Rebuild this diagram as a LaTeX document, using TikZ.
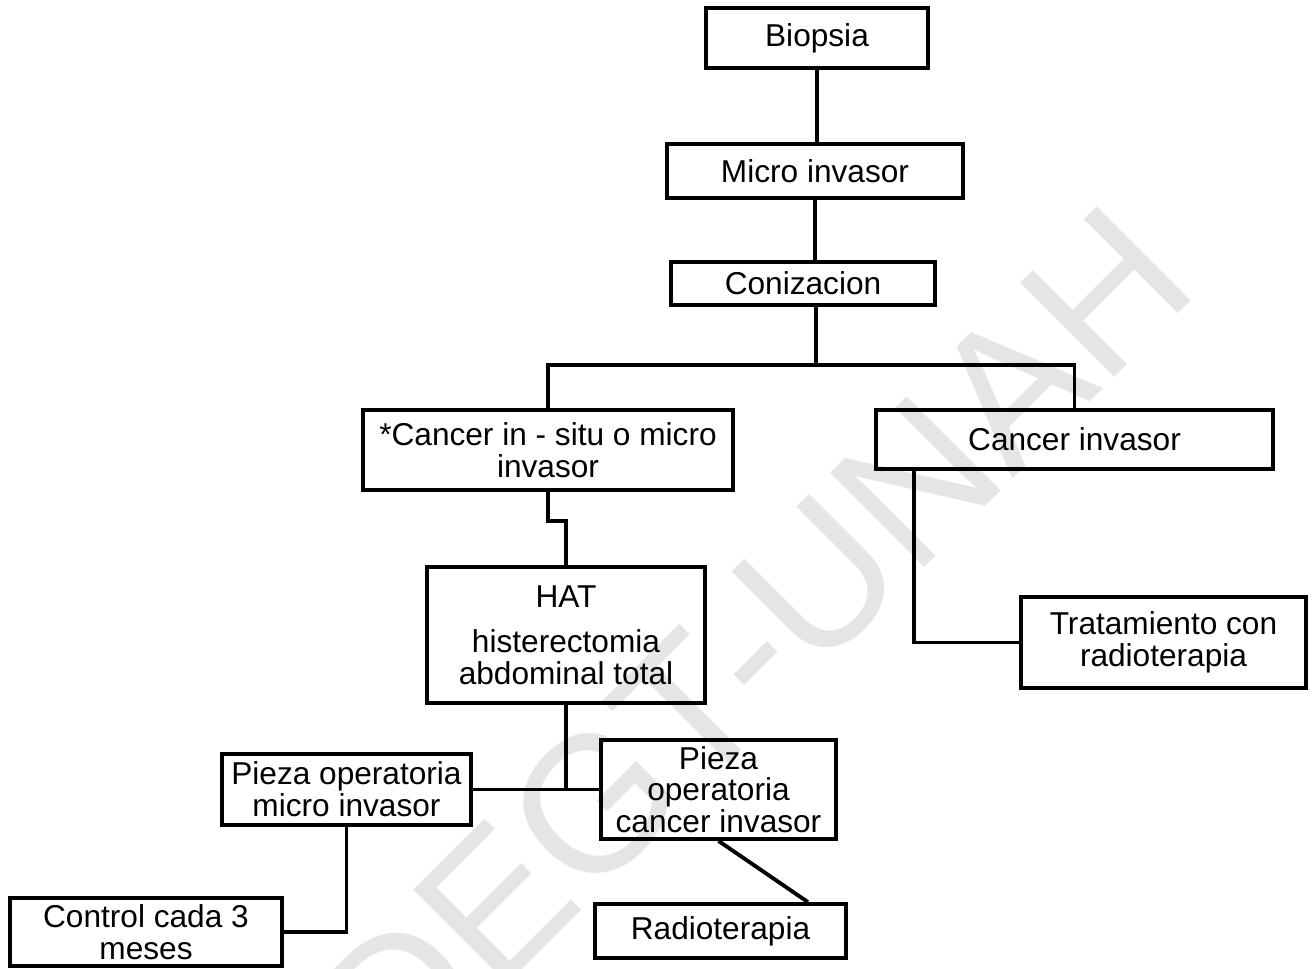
\documentclass[tikz,border=0pt]{standalone}
\usepackage{fontspec}
\setmainfont{Liberation Sans}
\usetikzlibrary{positioning}

\begin{document}
\begin{tikzpicture}[x=0.02cm, y=-0.02cm,
  box/.style={draw, line width=2.2pt, align=center, inner sep=0pt,
    font=\fontsize{18}{18}\selectfont},
  link/.style={line width=2.2pt},
  wmark/.style={text=black!10, inner sep=0pt,
    font=\fontsize{110}{110}\selectfont}]
  \useasboundingbox (0,0) rectangle (1312,969);

  % Watermark
  \node[wmark, rotate=45, anchor=base] (wm) at (800,692) {DEGT-UNAH};

  % Main column
  \node[box, minimum width=4.44cm, minimum height=1.2cm] (bio) at (817,38) {Biopsia};
  \node[box, minimum width=5.92cm, minimum height=1.08cm] (micro) at (815,171) {Micro invasor};
  \node[box, minimum width=5.28cm, minimum height=0.86cm] (coni) at (803,283.5) {Conizacion};

  % Second level
  \node[box, minimum width=7.4cm, minimum height=1.6cm] (insitu) at (548,450)
    {*Cancer in - situ o micro\\invasor};
  \node[box, minimum width=7.94cm, minimum height=1.18cm] (inv) at (1074.5,439.5) {Cancer invasor};

  % Treatments
  \node[box, minimum width=5.56cm, minimum height=2.72cm] (hat) at (566,635)
    {HAT\\[8pt]histerectomia\\abdominal total};
  \node[box, minimum width=5.7cm, minimum height=1.82cm] (trat) at (1163.5,642.5)
    {Tratamiento con\\radioterapia};

  % Pieza operatoria
  \node[box, minimum width=4.98cm, minimum height=1.42cm] (pmicro) at (346.5,789.5)
    {Pieza operatoria\\micro invasor};
  \node[box, minimum width=4.7cm, minimum height=1.98cm] (pcancer) at (718.5,789.5)
    {Pieza\\operatoria\\cancer invasor};

  % Follow-up
  \node[box, minimum width=5.44cm, minimum height=1.36cm] (control) at (146,932)
    {Control cada 3\\meses};
  \node[box, minimum width=5.02cm, minimum height=1.08cm] (radio) at (720.5,931) {Radioterapia};

  % Connectors
  \coordinate (split) at (816,365);
  \draw[link] (bio.south) -- (bio.south |- micro.north);
  \draw[link] (micro.south) -- (micro.south |- coni.north);
  \draw[link] (coni.south -| split) -- (split) -| (insitu.north);
  \draw[link] (split) -| (inv.north);
  \draw[link] (insitu.south) -- ++(0,29) -| (hat.north);
  \draw[link] ([xshift=0.8cm]inv.south west) |- (trat.west);
  \draw[link] (hat.south) |- (pmicro.east);
  \draw[link] (hat.south) |- (pcancer.west);
  \draw[link] (pmicro.south) |- (control.east);
  \draw[link] (pcancer.south) -- ([xshift=-0.8cm]radio.north east);
\end{tikzpicture}
\end{document}
